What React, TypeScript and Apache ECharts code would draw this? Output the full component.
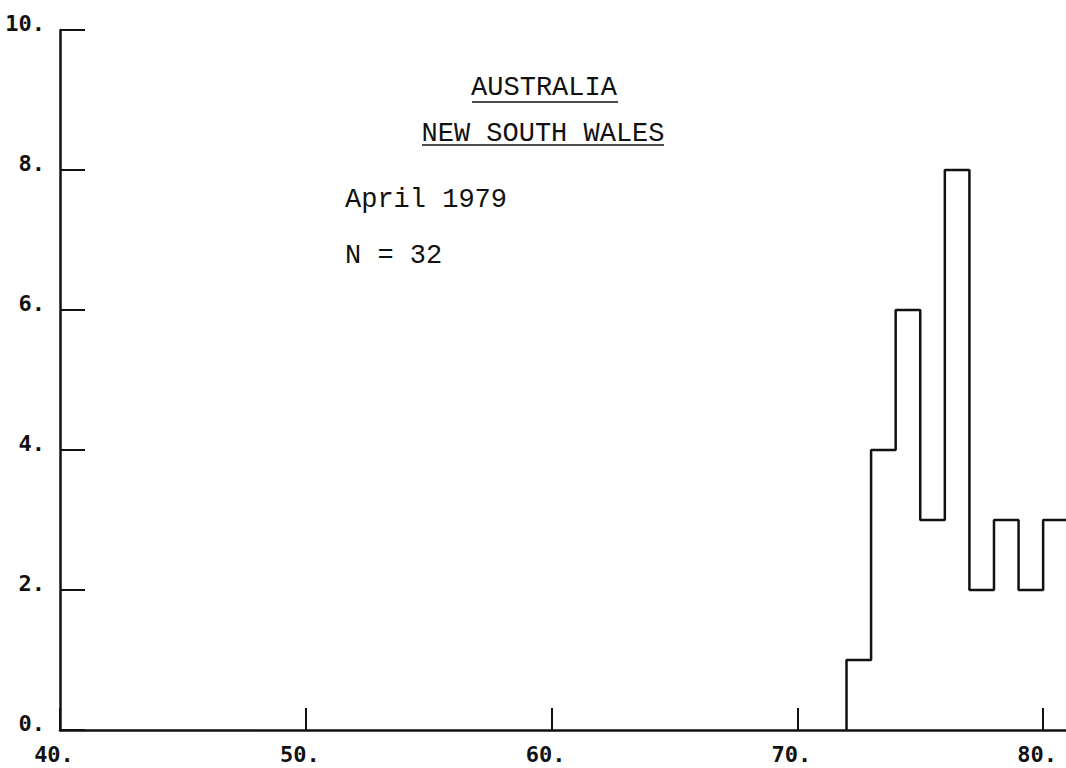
import React, { useEffect, useRef } from "react";
import * as echarts from "echarts";

const binStarts: number[] = [72, 73, 74, 75, 76, 77, 78, 79, 80];
const counts: number[] = [1, 4, 6, 3, 8, 2, 3, 2, 3];
const xTicks: number[] = [40, 50, 60, 70, 80];
const yTicks: number[] = [0, 2, 4, 6, 8, 10];
const titleLines: string[] = ["AUSTRALIA", "NEW SOUTH WALES"];
const infoLines: string[] = ["April 1979", "N = 32"];

const INK = "#111";

export default function App() {
  const ref = useRef<HTMLDivElement>(null);
  useEffect(() => {
    if (!ref.current) return;
    const chart = echarts.init(ref.current, null, { renderer: "svg" });
    const stepData: number[][] = [[binStarts[0], 0]];
    binStarts.forEach((b, i) => stepData.push([b, counts[i]]));
    const last = binStarts.length - 1;
    stepData.push([binStarts[last] + 1, counts[last]]);

    const axisFont = {
      fontFamily: "DejaVu Sans Mono",
      fontWeight: "bold" as const,
      fontSize: 22,
      color: INK,
    };
    const titleFont = "27px 'Liberation Mono'";

    chart.setOption({
      animation: false,
      backgroundColor: "#fff",
      grid: {
        left: 60,
        right: 0,
        top: 30,
        bottom: 38,
        containLabel: false,
        outerBoundsMode: "none",
      },
      xAxis: {
        type: "value",
        min: 40,
        max: 80.93,
        interval: 10,
        axisLine: { show: true, lineStyle: { color: INK, width: 2.5 } },
        axisTick: {
          show: true,
          inside: true,
          length: 22,
          customValues: xTicks,
          lineStyle: { color: INK, width: 2 },
        },
        axisLabel: {
          ...axisFont,
          customValues: xTicks,
          margin: 17,
          lineHeight: 14,
          align: "center",
          padding: [0, 12, 0, 0],
          formatter: (v: number) => `${v}.`,
        },
        splitLine: { show: false },
      },
      yAxis: {
        type: "value",
        min: 0,
        max: 10,
        interval: 2,
        axisLine: { show: true, lineStyle: { color: INK, width: 2.5 } },
        axisTick: {
          show: true,
          inside: true,
          length: 25,
          customValues: yTicks,
          lineStyle: { color: INK, width: 2 },
        },
        axisLabel: {
          ...axisFont,
          customValues: yTicks,
          margin: 15,
          verticalAlign: "bottom",
          lineHeight: 14,
          formatter: (v: number) => `${v}.`,
        },
        splitLine: { show: false },
      },
      series: [
        {
          type: "line",
          step: "end",
          data: stepData,
          symbol: "none",
          lineStyle: { color: INK, width: 2.5 },
          clip: true,
        },
      ],
      graphic: [
        {
          type: "text",
          x: 544,
          y: 88,
          style: { text: titleLines[0], font: titleFont, fill: INK, textAlign: "center", textVerticalAlign: "middle" },
        },
        {
          type: "line",
          shape: { x1: 472, y1: 102, x2: 618, y2: 102 },
          style: { stroke: INK, lineWidth: 1.5 },
        },
        {
          type: "text",
          x: 543,
          y: 134,
          style: { text: titleLines[1], font: titleFont, fill: INK, textAlign: "center", textVerticalAlign: "middle" },
        },
        {
          type: "line",
          shape: { x1: 422, y1: 145, x2: 664, y2: 145 },
          style: { stroke: INK, lineWidth: 1.5 },
        },
        {
          type: "text",
          x: 345,
          y: 200,
          style: { text: infoLines[0], font: titleFont, fill: INK, textAlign: "left", textVerticalAlign: "middle" },
        },
        {
          type: "text",
          x: 345,
          y: 256,
          style: { text: infoLines[1], font: titleFont, fill: INK, textAlign: "left", textVerticalAlign: "middle" },
        },
      ],
    });
    return () => chart.dispose();
  }, []);
  return (
    <div
      ref={ref}
      style={{ position: "absolute", left: 0, top: 0, width: 1066, height: 768 }}
    />
  );
}
